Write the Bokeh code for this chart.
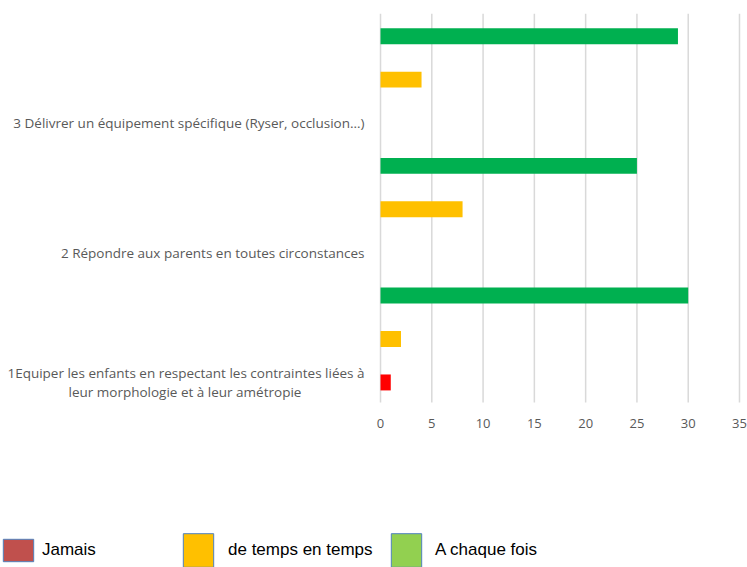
from bokeh.plotting import figure
from bokeh.models import (FixedTicker, Legend, LegendItem, ColumnDataSource, Range1d)
from bokeh.embed import file_html
from bokeh.resources import INLINE

# ---- data (bottom to top) ----
NB = "\u00a0" * 18  # keeps the second line visually centred under the first
categories = [
    "1Equiper les enfants en respectant les contraintes liées à\nleur morphologie et à leur amétropie" + NB,
    "2 Répondre aux parents en toutes circonstances",
    "3 Délivrer un équipement spécifique (Ryser, occlusion…)",
]
jamais = [1, 0, 0]
temps = [2, 8, 4]
chaque = [30, 25, 29]
x_ticks = [0, 5, 10, 15, 20, 25, 30, 35]
series_names = ["Jamais", "de temps en temps", "A chaque fois"]

# ---- styles / layout constants ----
bar_colors = ["#FF0000", "#FFC000", "#00B050"]
legend_colors = ["#C0504D", "#FFC000", "#92D050"]
offsets = [0.155, 0.49, 0.825]
bar_h = 0.123
GRAY = "#595959"
FONT = "Open Sans"
X_MIN = -37.05   # room for the category labels left of the value axis
X_PAD = 0.78     # room for the last tick label on the right
Y_MIN = -1.272   # room for the x tick labels and the legend below

n = len(categories)
p = figure(width=747, height=567, output_backend="svg", toolbar_location=None,
           x_range=Range1d(X_MIN, x_ticks[-1] + X_PAD), y_range=Range1d(Y_MIN, n),
           min_border_left=0, min_border_right=0, min_border_top=13,
           min_border_bottom=0)
p.outline_line_color = None
p.xgrid.grid_line_color = None
p.ygrid.grid_line_color = None

# vertical grid lines limited to the plotting area
p.segment(x0=x_ticks, y0=0, x1=x_ticks, y1=n, line_color="#D9D9D9", line_width=1.5)

idx = list(range(n))
for s, vals in enumerate([jamais, temps, chaque]):
    src = ColumnDataSource(dict(y=[i + offsets[s] for i in idx], right=vals))
    p.hbar(y="y", left=0, right="right", height=bar_h, source=src,
           fill_color=bar_colors[s], line_color=None)

# axes pinned at the data origin
p.xaxis.fixed_location = 0
p.xaxis.ticker = FixedTicker(ticks=x_ticks)
p.xaxis.axis_line_color = None
p.xaxis.major_tick_line_color = None
p.xaxis.minor_tick_line_color = None
p.xaxis.major_label_text_font = FONT
p.xaxis.major_label_text_font_size = "13px"
p.xaxis.major_label_text_color = GRAY
p.xaxis.major_label_standoff = 10

ytick_pos = [i + offsets[0] for i in idx]
p.yaxis.fixed_location = 0
p.yaxis.ticker = FixedTicker(ticks=ytick_pos)
p.yaxis.major_label_overrides = {ytick_pos[i]: categories[i] for i in idx}
p.yaxis.axis_line_color = None
p.yaxis.major_tick_line_color = None
p.yaxis.minor_tick_line_color = None
p.yaxis.major_label_text_font = FONT
p.yaxis.major_label_text_font_size = "13.5px"
p.yaxis.major_label_text_color = GRAY
p.yaxis.major_label_standoff = 10
p.yaxis.major_label_text_line_height = 1.07

# legend items (separate so their irregular spacing can be kept)
leg_x = [-1, 179, 387]
leg_y = [3, -4, -4]
leg_h = [28, 42, 42]
leg_standoff = [5, 11, 10]
for s in range(3):
    dummy = p.hbar(y=[-10], left=0, right=[1], height=1,
                   fill_color=legend_colors[s], line_color="#4F81BD", line_width=1)
    leg = Legend(items=[LegendItem(label=series_names[s], renderers=[dummy])],
                 location=(leg_x[s], leg_y[s]), orientation="horizontal",
                 padding=0, margin=0, spacing=0,
                 glyph_width=38, glyph_height=leg_h[s],
                 label_standoff=leg_standoff[s],
                 label_text_font="Liberation Sans", label_text_font_size="17px",
                 label_text_color="black",
                 border_line_color=None, background_fill_alpha=0)
    p.add_layout(leg, "center")

open("out.html", "w").write(file_html(p, INLINE))
